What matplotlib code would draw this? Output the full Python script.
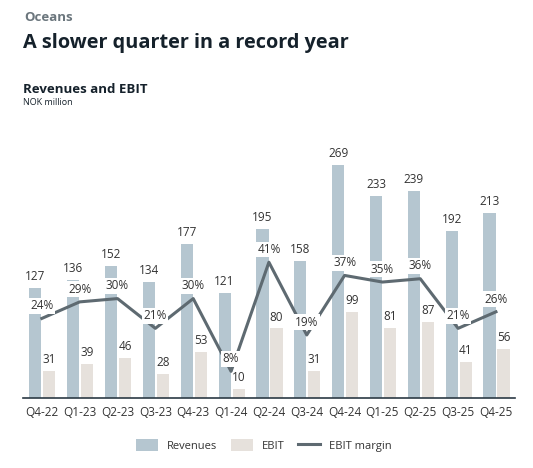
import matplotlib.pyplot as plt
import numpy as np

plt.rcParams['font.family'] = ['Open Sans', 'DejaVu Sans']

quarters = ["Q4-22", "Q1-23", "Q2-23", "Q3-23", "Q4-23", "Q1-24", "Q2-24",
            "Q3-24", "Q4-24", "Q1-25", "Q2-25", "Q3-25", "Q4-25"]
revenues = [127, 136, 152, 134, 177, 121, 195, 158, 269, 233, 239, 192, 213]
ebit = [31, 39, 46, 28, 53, 10, 80, 31, 99, 81, 87, 41, 56]
margin = [24, 29, 30, 21, 30, 8, 41, 19, 37, 35, 36, 21, 26]

REV_COLOR = '#b5c6d0'
EBIT_COLOR = '#e6e1dc'
LINE_COLOR = '#5e6a71'
TEXT_COLOR = '#333333'

fig = plt.figure(figsize=(5.33, 4.68), dpi=100)
ax = fig.add_axes([0.043, 0.15, 0.923, 0.53])
ax2 = ax.twinx()

x = np.arange(len(quarters))
w = 0.32
ax.bar(x - 0.17, revenues, w, color=REV_COLOR, label='Revenues')
ax.bar(x + 0.2, ebit, w, color=EBIT_COLOR, label='EBIT')

for i in range(len(quarters)):
    ax.annotate(str(revenues[i]), (x[i] - 0.17, revenues[i]), xytext=(0, 3.5),
                textcoords='offset points', ha='center', va='bottom',
                fontsize=8.5, color=TEXT_COLOR)
    ax.annotate(str(ebit[i]), (x[i] + 0.2, ebit[i]), xytext=(0, 3.5),
                textcoords='offset points', ha='center', va='bottom',
                fontsize=8.5, color=TEXT_COLOR)

ax2.plot(x, margin, color=LINE_COLOR, lw=2.2, label='EBIT margin', zorder=3)
for i in range(len(quarters)):
    ax2.annotate(f'{margin[i]}%', (x[i], margin[i]), xytext=(0, 4.5),
                 textcoords='offset points', ha='center', va='bottom',
                 fontsize=8.5, color=TEXT_COLOR, zorder=4,
                 bbox=dict(boxstyle='square,pad=0.12', fc='white', ec='none'))

ax.set_xlim(-0.5, len(quarters) - 0.5)
ax.set_ylim(0, 286)
ax2.set_ylim(0, 75)
ax.set_xticks(x)
ax.set_xticklabels(quarters, fontsize=8.5, color=TEXT_COLOR)
ax.tick_params(axis='x', length=0, pad=6)
ax.set_yticks([])
ax2.set_yticks([])
for a in (ax, ax2):
    for s in ['top', 'right', 'left', 'bottom']:
        a.spines[s].set_visible(False)
ax.spines['bottom'].set_visible(True)
ax.spines['bottom'].set_color('#2b3a44')
ax.spines['bottom'].set_linewidth(1.2)

h1, l1 = ax.get_legend_handles_labels()
h2, l2 = ax2.get_legend_handles_labels()
fig.legend(h1 + h2, l1 + l2, loc='center', bbox_to_anchor=(0.495, 0.048),
           ncol=3, frameon=False, fontsize=8, handlelength=2.0,
           handleheight=1.3, columnspacing=1.2, labelcolor=TEXT_COLOR)

fig.text(0.045, 0.962, 'Oceans', fontsize=9.5, fontweight='bold',
         color='#6b767d', va='center')
fig.text(0.043, 0.908, 'A slower quarter in a record year', fontsize=14.3,
         fontweight='bold', color='#15212b', va='center')
fig.text(0.043, 0.808, 'Revenues and EBIT', fontsize=9.5, fontweight='bold',
         color='#15212b', va='center')
fig.text(0.043, 0.78, 'NOK million', fontsize=6.5, color='#15212b',
         va='center')

fig.savefig('out.png', dpi=100)
